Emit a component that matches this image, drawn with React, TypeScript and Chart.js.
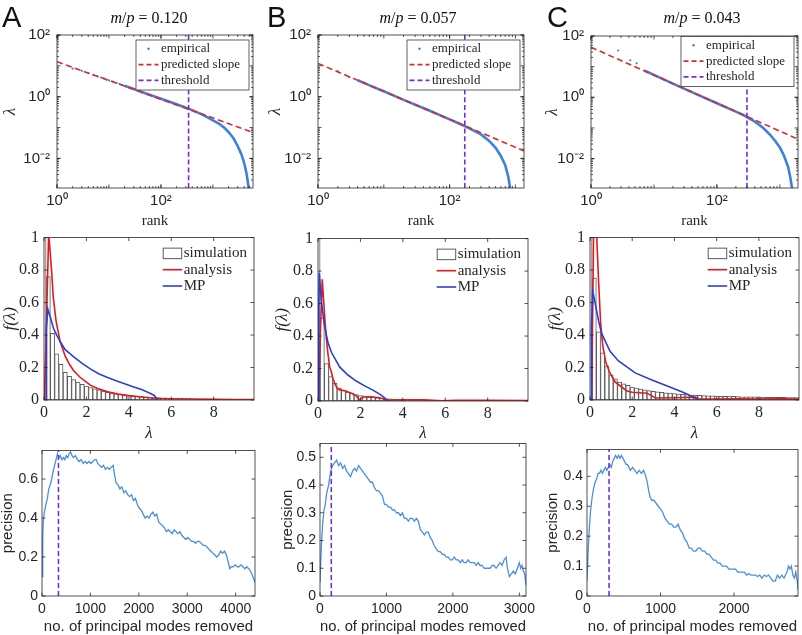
import React, { useEffect, useRef } from 'react';
import { Chart, registerables } from 'chart.js';
Chart.register(...registerables);

const SANS = "'Liberation Sans', Arial, Helvetica, sans-serif";
const SERIF = "'Liberation Serif', 'Times New Roman', serif";
const INK = '#262626';
const BLUE = '#3b82dc';
const RED_DASH = '#e3262b';
const PURPLE = '#7030d8';
const RED = '#e01b1f';
const MP_BLUE = '#2b3fd0';
const P_BLUE = '#4a8fe0';

// ---------------- DATA ----------------
const panelLetters = ['A', 'B', 'C'];
const mpRatios = ['0.120', '0.057', '0.043'];
const thresholds = [340, 170, 300];

// Row 1: eigenvalue vs rank (log-log)
const rankXTicks = [1, 100];
const lambdaYTicks = [0.01, 1, 100];
const rankXMax = [5900, 1350, 1940];
const rankYMin = 0.0011;
const rankYMax = 100;

const slopeA = [[1, 13.6], [5900, 0.0695]];
const dotsA = [[2, 8.1], [3, 6.9], [4, 5.8], [5, 5.1], [6, 4.6], [7, 4.2], [8, 3.9], [9, 3.6], [10, 3.4], [12, 3.1], [14, 2.8], [16, 2.6], [18, 2.4]];
const empA = [[20, 2.26], [30, 1.77], [50, 1.3], [100, 0.86], [200, 0.57], [340, 0.41], [500, 0.31], [700, 0.24], [1000, 0.17], [1300, 0.135], [1700, 0.095], [2100, 0.065], [2500, 0.044], [3000, 0.025], [3500, 0.014], [3830, 0.009], [4200, 0.005], [4500, 0.0028], [4800, 0.0013], [4900, 0.001]];

const slopeB = [[1, 12], [1350, 0.0175]];
const dotsB = [[2, 6.6], [3, 4.3]];
const empB = [[4, 3.4], [5, 2.8], [7, 2.05], [10, 1.5], [20, 0.79], [50, 0.35], [100, 0.185], [134, 0.14], [200, 0.094], [300, 0.06], [400, 0.037], [500, 0.022], [600, 0.012], [700, 0.006], [780, 0.0025], [830, 0.0011]];

const slopeC = [[1, 43], [1940, 0.043]];
const dotsC = [[2.7, 33.6], [4.2, 16.2], [5.3, 12.8]];
const empC = [[7, 7.5], [10, 5.4], [20, 2.8], [50, 1.2], [100, 0.64], [200, 0.34], [277, 0.25], [400, 0.16], [545, 0.1], [700, 0.06], [850, 0.037], [1000, 0.023], [1150, 0.013], [1350, 0.0054], [1450, 0.0027], [1560, 0.0011]];

// Row 2: eigenvalue density
const densXTicks = [0, 2, 4, 6, 8];
const densYTicks = [0, 0.2, 0.4, 0.6, 0.8, 1];
const binCenters = [0, 0.2, 0.4, 0.6, 0.8, 1, 1.2, 1.4, 1.6, 1.8, 2, 2.2, 2.4, 2.6, 2.8, 3, 3.2, 3.4, 3.6, 3.8, 4, 4.2, 4.4, 4.6, 4.8, 5, 5.2, 5.4, 5.6, 5.8, 6, 6.2, 6.4, 6.6, 6.8, 7, 7.2, 7.4, 7.6, 7.8, 8, 8.2, 8.4, 8.6, 8.8, 9, 9.2, 9.4, 9.6, 9.8];
const histA = [1.05, 0.76, 0.41, 0.285, 0.22, 0.17, 0.145, 0.125, 0.11, 0.097, 0.086, 0.077, 0.069, 0.062, 0.055, 0.049, 0.044, 0.039, 0.035, 0.031, 0.028, 0.025, 0.022, 0.02, 0.018, 0.016, 0.014, 0.012, 0.011, 0.01, 0.009, 0.009, 0.008, 0.008, 0.007, 0.007, 0.006, 0.006, 0.006, 0.005, 0.005, 0.005, 0.004, 0.004, 0.004, 0.004, 0.003, 0.003, 0.003, 0.003];
const histB = [1.05, 0.51, 0.23, 0.15, 0.11, 0.08, 0.065, 0.055, 0.048, 0.04, 0.034, 0.03, 0.026, 0.023, 0.02, 0.018, 0.015, 0.013, 0.011, 0.01, 0.009, 0.008, 0.008, 0.007, 0.007, 0.006, 0.006, 0.005, 0.005, 0.005, 0.004, 0.004, 0.004, 0.004, 0.003, 0.003, 0.003, 0.003, 0.003, 0.003, 0.002, 0.002, 0.002, 0.002, 0.002, 0.002, 0.002, 0.002, 0.002, 0.002];
const histC = [1.05, 0.75, 0.42, 0.29, 0.21, 0.155, 0.13, 0.11, 0.1, 0.09, 0.08, 0.073, 0.068, 0.063, 0.058, 0.053, 0.05, 0.047, 0.044, 0.042, 0.04, 0.037, 0.035, 0.033, 0.031, 0.03, 0.028, 0.027, 0.026, 0.025, 0.024, 0.023, 0.022, 0.024, 0.022, 0.021, 0.02, 0.02, 0.019, 0.019, 0.018, 0.018, 0.017, 0.017, 0.016, 0.016, 0.016, 0.015, 0.015, 0.015];

const analysisA = [[0.02, 0], [0.12, 0.5], [0.22, 1.02], [0.28, 0.93], [0.36, 0.79], [0.44, 0.63], [0.57, 0.485], [0.76, 0.36], [1.0, 0.27], [1.2, 0.22], [1.4, 0.18], [1.7, 0.14], [2.0, 0.11], [2.2, 0.09], [2.5, 0.072], [3.0, 0.05], [3.5, 0.036], [4.0, 0.027], [4.5, 0.02], [5.0, 0.014], [5.5, 0.01], [6, 0.008], [7, 0.006], [8, 0.004], [9, 0.003], [10, 0.003]];
const mpA = [[0.1, 0], [0.12, 0.45], [0.18, 0.56], [0.3, 0.51], [0.45, 0.44], [0.6, 0.4], [0.76, 0.36], [1.0, 0.31], [1.4, 0.265], [1.8, 0.225], [2.2, 0.19], [2.6, 0.16], [3.0, 0.138], [3.4, 0.118], [3.8, 0.1], [4.2, 0.082], [4.6, 0.064], [5.0, 0.042], [5.2, 0.028], [5.35, 0]];
const analysisB = [[0.03, 0], [0.12, 0.45], [0.2, 0.75], [0.31, 0.53], [0.39, 0.39], [0.47, 0.29], [0.55, 0.21], [0.63, 0.18], [0.7, 0.14], [0.8, 0.105], [0.9, 0.08], [1.0, 0.07], [1.3, 0.062], [1.6, 0.046], [1.8, 0.032], [1.96, 0.005], [2.1, 0.025], [2.5, 0.026], [2.9, 0.02], [3.2, 0.008], [3.5, 0.006], [4, 0.008], [5, 0.007], [5.8, 0.002], [6.5, 0.005], [8, 0.004], [10, 0.003]];
const mpB = [[0.02, 0], [0.04, 0.6], [0.06, 0.79], [0.1, 0.72], [0.16, 0.61], [0.24, 0.53], [0.31, 0.46], [0.47, 0.36], [0.63, 0.3], [1.02, 0.21], [1.41, 0.16], [1.8, 0.123], [2.2, 0.093], [2.59, 0.067], [2.98, 0.036], [3.14, 0.02], [3.27, 0]];
const analysisC = [[0.08, 0], [0.22, 1.6], [0.32, 1.0], [0.4, 0.75], [0.5, 0.48], [0.6, 0.34], [0.75, 0.23], [0.95, 0.165], [1.2, 0.11], [1.5, 0.08], [1.75, 0.055], [2.0, 0.048], [2.7, 0.042], [3.1, 0.012], [4.0, 0.014], [5.0, 0.018], [5.15, 0.006], [6, 0.006], [7, 0.008], [8, 0.006], [9, 0.007], [10, 0.005]];
const mpC = [[0.05, 0], [0.07, 0.45], [0.13, 0.67], [0.24, 0.6], [0.4, 0.49], [0.55, 0.41], [0.95, 0.3], [1.35, 0.24], [2.14, 0.167], [2.93, 0.123], [3.72, 0.083], [4.52, 0.042], [4.99, 0.012], [5.1, 0]];

// Row 3: precision vs modes removed
const precXTicks = [[0, 1000, 2000, 3000, 4000], [0, 1000, 2000, 3000], [0, 1000, 2000]];
const precYTicks = [[0, 0.2, 0.4, 0.6], [0, 0.1, 0.2, 0.3, 0.4, 0.5], [0, 0.1, 0.2, 0.3, 0.4]];
const precXMax = [4400, 3100, 2870];
const precYMax = [0.747, 0.55, 0.49];

const precA = [[0, 0.1], [15, 0.3], [30, 0.4], [50, 0.43], [80, 0.47], [110, 0.5], [140, 0.55], [170, 0.57], [200, 0.6], [230, 0.64], [260, 0.67], [290, 0.7], [320, 0.73], [350, 0.71], [380, 0.72], [410, 0.7], [440, 0.71], [470, 0.7], [500, 0.72], [530, 0.71], [560, 0.73], [590, 0.74], [620, 0.72], [650, 0.71], [690, 0.72], [730, 0.7], [770, 0.69], [810, 0.7], [850, 0.68], [890, 0.69], [930, 0.68], [970, 0.69], [1010, 0.68], [1050, 0.69], [1090, 0.7], [1120, 0.7], [1150, 0.68], [1190, 0.67], [1230, 0.66], [1270, 0.67], [1310, 0.65], [1350, 0.66], [1390, 0.65], [1430, 0.66], [1470, 0.67], [1500, 0.62], [1530, 0.58], [1570, 0.57], [1610, 0.55], [1650, 0.56], [1690, 0.53], [1730, 0.54], [1770, 0.52], [1810, 0.51], [1850, 0.52], [1890, 0.49], [1930, 0.5], [1970, 0.47], [2010, 0.45], [2050, 0.44], [2090, 0.42], [2130, 0.4], [2170, 0.41], [2210, 0.4], [2250, 0.42], [2290, 0.43], [2330, 0.41], [2370, 0.42], [2410, 0.38], [2450, 0.37], [2490, 0.36], [2530, 0.35], [2570, 0.33], [2610, 0.34], [2650, 0.33], [2690, 0.32], [2730, 0.34], [2770, 0.33], [2810, 0.32], [2850, 0.33], [2890, 0.31], [2930, 0.3], [2970, 0.29], [3010, 0.3], [3050, 0.29], [3090, 0.28], [3130, 0.28], [3170, 0.27], [3210, 0.28], [3250, 0.28], [3290, 0.27], [3330, 0.26], [3370, 0.26], [3410, 0.25], [3450, 0.24], [3490, 0.23], [3530, 0.22], [3570, 0.21], [3610, 0.2], [3650, 0.21], [3690, 0.23], [3730, 0.22], [3770, 0.23], [3810, 0.21], [3850, 0.17], [3880, 0.14], [3910, 0.15], [3950, 0.15], [3990, 0.16], [4030, 0.15], [4070, 0.15], [4110, 0.16], [4150, 0.15], [4190, 0.14], [4230, 0.15], [4270, 0.14], [4300, 0.13], [4340, 0.11], [4370, 0.09], [4400, 0.07]];
const precB = [[0, 0.05], [20, 0.18], [40, 0.26], [60, 0.31], [80, 0.33], [100, 0.37], [130, 0.4], [160, 0.45], [190, 0.47], [220, 0.48], [250, 0.49], [280, 0.47], [310, 0.48], [340, 0.46], [370, 0.47], [400, 0.45], [430, 0.44], [460, 0.43], [490, 0.45], [520, 0.46], [550, 0.45], [580, 0.47], [610, 0.46], [640, 0.45], [670, 0.44], [700, 0.43], [730, 0.42], [760, 0.41], [790, 0.41], [820, 0.39], [850, 0.38], [880, 0.38], [910, 0.37], [940, 0.36], [970, 0.33], [1000, 0.33], [1030, 0.32], [1060, 0.32], [1090, 0.31], [1120, 0.31], [1150, 0.3], [1180, 0.3], [1210, 0.29], [1240, 0.3], [1270, 0.28], [1300, 0.28], [1330, 0.27], [1360, 0.28], [1390, 0.28], [1420, 0.27], [1450, 0.28], [1480, 0.27], [1510, 0.24], [1540, 0.23], [1570, 0.22], [1600, 0.23], [1630, 0.23], [1660, 0.21], [1690, 0.2], [1720, 0.18], [1750, 0.17], [1780, 0.16], [1810, 0.16], [1840, 0.15], [1870, 0.15], [1900, 0.14], [1930, 0.14], [1960, 0.13], [1990, 0.13], [2020, 0.14], [2050, 0.13], [2080, 0.13], [2110, 0.12], [2140, 0.13], [2170, 0.12], [2200, 0.12], [2230, 0.13], [2260, 0.12], [2290, 0.12], [2320, 0.12], [2350, 0.11], [2380, 0.12], [2410, 0.11], [2440, 0.11], [2470, 0.1], [2500, 0.1], [2530, 0.1], [2560, 0.1], [2590, 0.11], [2620, 0.11], [2650, 0.1], [2680, 0.11], [2710, 0.12], [2740, 0.11], [2770, 0.13], [2800, 0.14], [2820, 0.1], [2850, 0.07], [2880, 0.08], [2910, 0.09], [2940, 0.08], [2970, 0.1], [3000, 0.12], [3020, 0.1], [3040, 0.11], [3060, 0.09], [3080, 0.08], [3100, 0.04]];
const precC = [[0, 0.05], [15, 0.15], [30, 0.22], [50, 0.29], [70, 0.33], [90, 0.36], [110, 0.38], [130, 0.39], [150, 0.41], [170, 0.41], [190, 0.42], [210, 0.41], [230, 0.42], [250, 0.43], [270, 0.42], [290, 0.43], [310, 0.44], [330, 0.43], [350, 0.45], [370, 0.46], [390, 0.47], [410, 0.46], [430, 0.47], [450, 0.46], [470, 0.47], [490, 0.46], [510, 0.45], [530, 0.44], [550, 0.44], [570, 0.43], [590, 0.42], [620, 0.43], [650, 0.42], [680, 0.41], [710, 0.42], [740, 0.41], [770, 0.42], [800, 0.4], [820, 0.38], [840, 0.35], [860, 0.33], [880, 0.32], [910, 0.32], [940, 0.31], [970, 0.3], [1000, 0.29], [1030, 0.28], [1060, 0.26], [1090, 0.25], [1120, 0.24], [1150, 0.24], [1180, 0.23], [1210, 0.23], [1240, 0.24], [1270, 0.22], [1300, 0.21], [1330, 0.19], [1360, 0.18], [1390, 0.16], [1420, 0.16], [1450, 0.15], [1480, 0.15], [1510, 0.16], [1540, 0.16], [1570, 0.15], [1600, 0.15], [1630, 0.14], [1660, 0.14], [1690, 0.13], [1720, 0.12], [1750, 0.12], [1780, 0.11], [1810, 0.11], [1840, 0.1], [1870, 0.1], [1900, 0.1], [1930, 0.09], [1960, 0.09], [1990, 0.09], [2020, 0.09], [2050, 0.08], [2080, 0.08], [2110, 0.08], [2140, 0.08], [2170, 0.07], [2200, 0.075], [2230, 0.07], [2260, 0.07], [2290, 0.07], [2320, 0.065], [2350, 0.07], [2380, 0.06], [2410, 0.07], [2440, 0.065], [2470, 0.07], [2500, 0.06], [2530, 0.05], [2560, 0.05], [2590, 0.07], [2620, 0.06], [2650, 0.07], [2680, 0.06], [2700, 0.07], [2720, 0.08], [2740, 0.1], [2760, 0.09], [2780, 0.1], [2800, 0.07], [2820, 0.06], [2840, 0.08], [2860, 0.05], [2870, 0.02]];

// ---------------- helpers ----------------
const SUP: Record<string, string> = { '-': '⁻', '0': '⁰', '1': '¹', '2': '²', '3': '³', '4': '⁴', '5': '⁵', '6': '⁶', '7': '⁷', '8': '⁸', '9': '⁹' };
const pow10Label = (v: number) => '10' + String(Math.round(Math.log10(v))).split('').map((c) => SUP[c]).join('');
const plainLabel = (v: number) => String(Number(v.toFixed(4)));
const pts = (arr: number[][]) => arr.map(([x, y]) => ({ x, y }));

function axis(o: any) {
  return {
    type: o.type,
    min: o.min,
    max: o.max,
    offset: false,
    grid: { display: false, drawTicks: false },
    border: { display: false },
    ticks: {
      font: o.font,
      color: INK,
      padding: o.pad,
      autoSkip: false,
      maxRotation: 0,
      minRotation: 0,
      callback: (v: any) => o.label(Number(v)),
    },
    afterBuildTicks: (s: any) => {
      s.ticks = o.ticks.map((v: number) => ({ value: v }));
    },
    title: { display: true, text: o.title, font: o.titleFont, color: INK, padding: 0 },
    afterFit: (s: any) => {
      if (o.horizontal) s.height = o.fixed;
      else s.width = o.fixed;
    },
  };
}

const boxPlugin = {
  id: 'mbox',
  afterDatasetsDraw(chart: any) {
    const { ctx, chartArea: a } = chart;
    const xs = chart.scales.x;
    const ys = chart.scales.y;
    ctx.save();
    ctx.strokeStyle = INK;
    ctx.lineWidth = 0.8;
    ctx.setLineDash([]);
    ctx.beginPath();
    const big = 3.5;
    const small = 2;
    const xt = (v: number, len: number) => {
      const p = xs.getPixelForValue(v);
      if (p < a.left - 0.1 || p > a.right + 0.1) return;
      ctx.moveTo(p, a.bottom);
      ctx.lineTo(p, a.bottom - len);
      ctx.moveTo(p, a.top);
      ctx.lineTo(p, a.top + len);
    };
    const yt = (v: number, len: number) => {
      const p = ys.getPixelForValue(v);
      if (p < a.top - 0.1 || p > a.bottom + 0.1) return;
      ctx.moveTo(a.left, p);
      ctx.lineTo(a.left + len, p);
      ctx.moveTo(a.right, p);
      ctx.lineTo(a.right - len, p);
    };
    xs.ticks.forEach((t: any) => xt(t.value, big));
    ys.ticks.forEach((t: any) => yt(t.value, big));
    if (xs.type === 'logarithmic') {
      for (let e = Math.floor(Math.log10(xs.min)); e <= Math.ceil(Math.log10(xs.max)); e++)
        for (let m = 1; m <= 9; m++) xt(m * Math.pow(10, e), m === 1 ? big : small);
    }
    if (ys.type === 'logarithmic') {
      for (let e = Math.floor(Math.log10(ys.min)); e <= Math.ceil(Math.log10(ys.max)); e++)
        for (let m = 1; m <= 9; m++) yt(m * Math.pow(10, e), m === 1 ? big : small);
    }
    ctx.stroke();
    ctx.strokeRect(a.left, a.top, a.right - a.left, a.bottom - a.top);
    ctx.restore();
  },
};

function legendPlugin(cfg: any) {
  return {
    id: 'mlegend',
    afterDraw(chart: any) {
      const { ctx, chartArea: a } = chart;
      const x0 = a.right - cfg.fromRight;
      const y0 = a.top + cfg.fromTop;
      ctx.save();
      if (cfg.boxW) {
        ctx.fillStyle = '#fff';
        ctx.fillRect(x0, y0, cfg.boxW, cfg.boxH);
        ctx.strokeStyle = '#3a3a3a';
        ctx.lineWidth = 0.8;
        ctx.strokeRect(x0, y0, cfg.boxW, cfg.boxH);
      }
      cfg.items.forEach((it: any, k: number) => {
        const cy = y0 + cfg.row0 + k * cfg.rowH;
        const sx = x0 + cfg.swX;
        const sw = cfg.swW;
        ctx.setLineDash([]);
        if (it.kind === 'dot') {
          ctx.fillStyle = it.color;
          ctx.beginPath();
          ctx.arc(sx + sw / 2, cy, 1.2, 0, Math.PI * 2);
          ctx.fill();
        } else if (it.kind === 'box') {
          ctx.fillStyle = '#fff';
          ctx.fillRect(sx, cy - cfg.swH / 2, sw, cfg.swH);
          ctx.strokeStyle = '#5a5a5a';
          ctx.lineWidth = 1;
          ctx.strokeRect(sx + 0.5, cy - cfg.swH / 2 + 0.5, sw - 1, cfg.swH - 1);
        } else {
          ctx.strokeStyle = it.color;
          ctx.lineWidth = it.width;
          ctx.setLineDash(it.dash || []);
          ctx.beginPath();
          ctx.moveTo(sx, cy);
          ctx.lineTo(sx + sw, cy);
          ctx.stroke();
        }
        ctx.setLineDash([]);
        ctx.fillStyle = INK;
        ctx.font = cfg.font;
        ctx.textBaseline = 'middle';
        ctx.textAlign = 'left';
        ctx.fillText(it.label, x0 + cfg.textX, cy);
      });
      ctx.restore();
    },
  };
}

const PAD_T = 12;
const PAD_R = 22;

function Panel({ spec }: { spec: any }) {
  const ref = useRef<HTMLCanvasElement>(null);
  const left = Math.round(spec.yTitleX - spec.yLH / 2);
  const top = spec.T - PAD_T;
  const right = spec.R + PAD_R;
  const bottom = Math.round(spec.xTitleY + spec.xLH / 2);
  const w = right - left;
  const h = bottom - top;
  useEffect(() => {
    const cfg = spec.build({ yW: spec.L - left, xH: bottom - spec.B });
    cfg.options.layout = { padding: { top: PAD_T, right: PAD_R, left: 0, bottom: 0 } };
    const c = new Chart(ref.current as HTMLCanvasElement, cfg);
    return () => c.destroy();
  }, []);
  return <canvas ref={ref} width={w} height={h} style={{ position: 'absolute', left, top, width: w, height: h }} />;
}

const baseOptions = () => ({
  responsive: false,
  animation: false,
  events: [],
  plugins: { legend: { display: false }, tooltip: { enabled: false }, title: { display: false } },
  elements: { line: { tension: 0 }, point: { radius: 0 } },
});

// ---------------- row builders ----------------
const rowOneSlope = [slopeA, slopeB, slopeC];
const rowOneDots = [dotsA, dotsB, dotsC];
const rowOneEmp = [empA, empB, empC];
const rowOneRect = [
  { L: 57, T: 31, R: 253, B: 188, yTitleX: 10, legTop: 5 },
  { L: 318, T: 31, R: 524, B: 188, yTitleX: 275.5, legTop: 5 },
  { L: 591, T: 32, R: 798, B: 188, yTitleX: 552, legTop: 0.5 },
];

function rowOneSpec(i: number) {
  const r = rowOneRect[i];
  return {
    ...r,
    xTitleY: 221,
    yLH: 17 * 1.2,
    xLH: 15 * 1.2,
    build: ({ yW, xH }: any) => ({
      type: 'line',
      data: {
        datasets: [
          { data: pts([[thresholds[i], rankYMin], [thresholds[i], rankYMax]]), borderColor: PURPLE, borderWidth: 1.6, borderDash: [5, 2.8], pointRadius: 0 },
          { data: pts(rowOneSlope[i]), borderColor: RED_DASH, borderWidth: 1.6, borderDash: [6, 3.5], pointRadius: 0 },
          { data: pts(rowOneDots[i]), showLine: false, pointRadius: 1.1, pointBackgroundColor: BLUE, pointBorderWidth: 0 },
          { data: pts(rowOneEmp[i]), borderColor: BLUE, borderWidth: 2.6, pointRadius: 0 },
        ],
      },
      options: {
        ...baseOptions(),
        scales: {
          x: axis({ type: 'logarithmic', min: 1, max: rankXMax[i], ticks: rankXTicks, label: pow10Label, font: { family: SANS, size: 15 }, pad: 4, title: 'rank', titleFont: { family: SERIF, size: 15 }, horizontal: true, fixed: xH }),
          y: axis({ type: 'logarithmic', min: rankYMin, max: rankYMax, ticks: lambdaYTicks, label: pow10Label, font: { family: SANS, size: 15 }, pad: 7, title: 'λ', titleFont: { family: SERIF, size: 17, style: 'italic' }, horizontal: false, fixed: yW }),
        },
      },
      plugins: [
        boxPlugin,
        legendPlugin({
          fromRight: 117, fromTop: r.legTop, boxW: 113, boxH: 50, row0: 8.8, rowH: 15.8, swX: 2.5, swW: 20, textX: 25,
          font: `13px ${SERIF}`,
          items: [
            { label: 'empirical', kind: 'dot', color: BLUE },
            { label: 'predicted slope', kind: 'line', color: RED_DASH, width: 1.6, dash: [5, 3] },
            { label: 'threshold', kind: 'line', color: PURPLE, width: 1.6, dash: [5, 3] },
          ],
        }),
      ],
    }),
  };
}

const rowTwoHist = [histA, histB, histC];
const rowTwoAnalysis = [analysisA, analysisB, analysisC];
const rowTwoMP = [mpA, mpB, mpC];
const rowTwoRect = [
  { L: 44, T: 235, R: 254, B: 400, yTitleX: 10.5 },
  { L: 318, T: 236, R: 528, B: 401, yTitleX: 281.7 },
  { L: 590, T: 235, R: 799, B: 400, yTitleX: 555.5 },
];

function rowTwoSpec(i: number) {
  const r = rowTwoRect[i];
  return {
    ...r,
    xTitleY: 434,
    yLH: 17 * 1.2,
    xLH: 17 * 1.2,
    build: ({ yW, xH }: any) => ({
      type: 'line',
      data: {
        datasets: [
          { type: 'line', data: pts(rowTwoMP[i]), borderColor: MP_BLUE, borderWidth: 1.6, pointRadius: 0 },
          { type: 'line', data: pts(rowTwoAnalysis[i]), borderColor: RED, borderWidth: 1.6, pointRadius: 0 },
          {
            type: 'bar',
            data: binCenters.map((x, k) => ({ x, y: rowTwoHist[i][k] })),
            backgroundColor: '#ffffff',
            borderColor: '#5a5a5a',
            borderWidth: 1,
            borderSkipped: false,
            barPercentage: 1,
            categoryPercentage: 1,
          },
        ],
      },
      options: {
        ...baseOptions(),
        scales: {
          x: axis({ type: 'linear', min: 0, max: 9.9, ticks: densXTicks, label: plainLabel, font: { family: SERIF, size: 16 }, pad: 3, title: 'λ', titleFont: { family: SERIF, size: 17, style: 'italic' }, horizontal: true, fixed: xH }),
          y: axis({ type: 'linear', min: 0, max: 1, ticks: densYTicks, label: plainLabel, font: { family: SERIF, size: 16 }, pad: 5, title: 'f(λ)', titleFont: { family: SERIF, size: 17, style: 'italic' }, horizontal: false, fixed: yW }),
        },
      },
      plugins: [
        boxPlugin,
        legendPlugin({
          fromRight: 91.3, fromTop: 0, row0: 15.8, rowH: 16.3, swX: 0, swW: 19.5, swH: 11.5, textX: 21,
          font: `15px ${SERIF}`,
          items: [
            { label: 'simulation', kind: 'box' },
            { label: 'analysis', kind: 'line', color: RED, width: 1.6 },
            { label: 'MP', kind: 'line', color: MP_BLUE, width: 1.6 },
          ],
        }),
      ],
    }),
  };
}

const rowThreeData = [precA, precB, precC];
const rowThreeRect = [
  { L: 42, T: 450, R: 255, B: 596, yTitleX: 8 },
  { L: 320, T: 443, R: 526, B: 596, yTitleX: 288 },
  { L: 587, T: 449, R: 798, B: 596, yTitleX: 553 },
];

function rowThreeSpec(i: number) {
  const r = rowThreeRect[i];
  return {
    ...r,
    xTitleY: 627,
    yLH: 15 * 1.2,
    xLH: 15 * 1.2,
    build: ({ yW, xH }: any) => ({
      type: 'line',
      data: {
        datasets: [
          { data: pts([[thresholds[i], 0], [thresholds[i], precYMax[i]]]), borderColor: PURPLE, borderWidth: 1.6, borderDash: [5, 3], pointRadius: 0 },
          { data: pts(rowThreeData[i]), borderColor: P_BLUE, borderWidth: 1.3, pointRadius: 0 },
        ],
      },
      options: {
        ...baseOptions(),
        scales: {
          x: axis({ type: 'linear', min: 0, max: precXMax[i], ticks: precXTicks[i], label: plainLabel, font: { family: SANS, size: 14 }, pad: 5, title: 'no. of principal modes removed', titleFont: { family: SANS, size: 15 }, horizontal: true, fixed: xH }),
          y: axis({ type: 'linear', min: 0, max: precYMax[i], ticks: precYTicks[i], label: plainLabel, font: { family: SANS, size: 14 }, pad: 4, title: 'precision', titleFont: { family: SANS, size: 15 }, horizontal: false, fixed: yW }),
        },
      },
      plugins: [boxPlugin],
    }),
  };
}

const titleCenters = [149, 418, 702];
const letterLefts = [2, 267, 547];

export default function App() {
  const specs = [0, 1, 2].flatMap((i) => [rowOneSpec(i), rowTwoSpec(i), rowThreeSpec(i)]);
  return (
    <div style={{ position: 'fixed', left: 0, top: 0, width: 802, height: 635, overflow: 'hidden', background: '#fff' }}>
      {specs.map((s, k) => (
        <Panel key={k} spec={s} />
      ))}
      {panelLetters.map((t, i) => (
        <div key={'L' + t} style={{ position: 'absolute', left: letterLefts[i], top: 3, fontFamily: SANS, fontSize: 29, lineHeight: '29px', color: '#111' }}>
          {t}
        </div>
      ))}
      {mpRatios.map((t, i) => (
        <div key={'T' + t} style={{ position: 'absolute', left: titleCenters[i] - 80, width: 160, top: 8, height: 20, lineHeight: '20px', textAlign: 'center', fontFamily: SERIF, fontSize: 16, color: '#111', whiteSpace: 'nowrap' }}>
          <i>m</i>/<i>p</i> = {t}
        </div>
      ))}
    </div>
  );
}
